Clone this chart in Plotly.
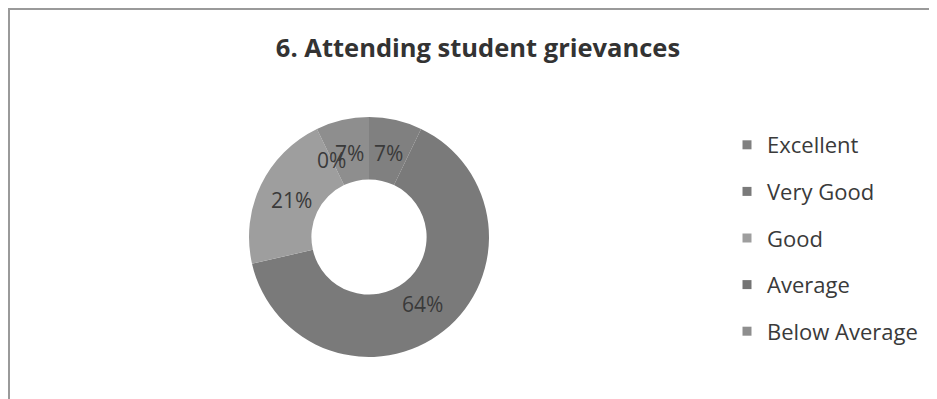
import math
import plotly.graph_objects as go

# data (14 answers)
categories = ["Excellent", "Very Good", "Good", "Average", "Below Average"]
counts = [1, 9, 3, 0, 1]
colors = ["#808080", "#7a7a7a", "#9e9e9e", "#747474", "#8e8e8e"]
title = "6. Attending student grievances"

font = "Open Sans"
W, H = 929, 391   # page has an 8px body margin, so the figure is a bit smaller
off = 8
total = sum(counts)
pct = [f"{round(100 * c / total)}%" for c in counts]

cx, cy, r_out = 369 - off, 237 - off, 120
hole = 0.48
dom_x = [(cx - r_out) / W, (cx + r_out) / W]
dom_y = [(H - cy - r_out) / H, (H - cy + r_out) / H]

fig = go.Figure()
fig.add_trace(go.Pie(
    labels=categories,
    values=counts,
    textinfo="none",
    marker=dict(colors=colors, line=dict(width=0)),
    hole=hole,
    sort=False,
    direction="clockwise",
    rotation=0,
    domain=dict(x=dom_x, y=dom_y),
    showlegend=False,
    hoverinfo="label+percent",
))

# legend entries as dummy traces so the rows can be spaced like the original
for name, col in zip(categories, colors):
    fig.add_trace(go.Scatter(
        x=[None], y=[None], mode="markers", name=name, legendgroup=name,
        marker=dict(symbol="square", size=9, color=col),
    ))

# percentage labels in the middle of the ring, like Excel does (zero slice included)
r_lab = 86
cum = 0
for c, p in zip(counts, pct):
    ang = math.radians(360 * (cum + c / 2) / total)
    lx = cx + r_lab * math.sin(ang)
    ly = cy - r_lab * math.cos(ang)
    fig.add_annotation(x=lx / W, y=1 - ly / H, xref="paper", yref="paper",
                       xanchor="center", yanchor="middle",
                       text=p, showarrow=False,
                       font=dict(family=font, size=21, color="#3a3a3a"))
    cum += c

# frame of the chart area
fig.add_shape(type="line", xref="paper", yref="paper",
              x0=0, x1=1, y0=1 - 1 / H, y1=1 - 1 / H,
              line=dict(color="#9a9a9a", width=2))
fig.add_shape(type="line", xref="paper", yref="paper",
              x0=1 / W, x1=1 / W, y0=0, y1=1,
              line=dict(color="#9a9a9a", width=2))
fig.add_shape(type="line", xref="paper", yref="paper",
              x0=(935 - off) / W, x1=(935 - off) / W, y0=0, y1=1,
              line=dict(color="#d0d0d0", width=1))

fig.update_layout(
    width=W, height=H,
    margin=dict(l=0, r=0, t=0, b=0),
    paper_bgcolor="#ffffff",
    plot_bgcolor="rgba(0,0,0,0)",
    title=dict(text="<b>" + title + "</b>", x=(478 - off) / W, xanchor="center",
               y=1 - (48 - off) / H, yanchor="middle",
               font=dict(family=font, size=25.5, color="#333333")),
    xaxis=dict(visible=False),
    yaxis=dict(visible=False),
    legend=dict(x=(727 - off) / W, y=1 - (124 - off) / H, xanchor="left", yanchor="top",
                font=dict(family=font, size=22, color="#3a3a3a"),
                tracegroupgap=15, itemwidth=30, bgcolor="rgba(0,0,0,0)"),
)

fig.write_html("out.html")
